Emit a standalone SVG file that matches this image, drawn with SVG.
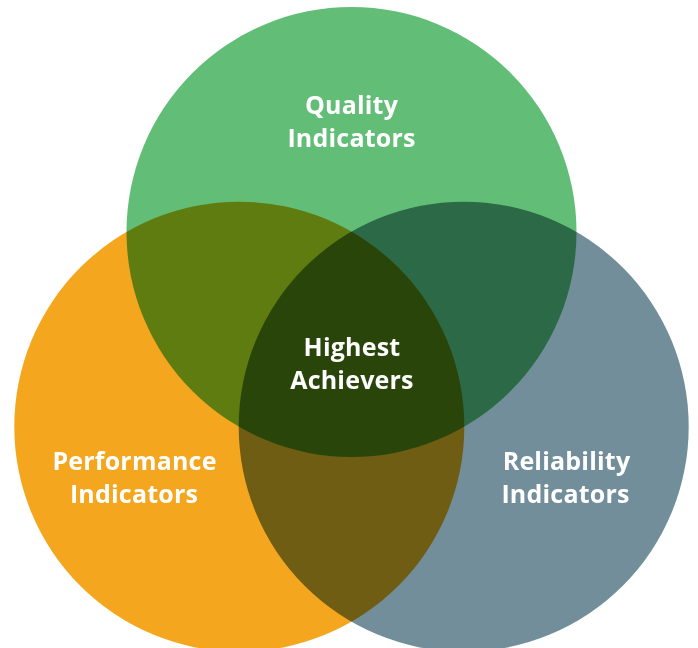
<svg xmlns="http://www.w3.org/2000/svg" width="698" height="648" viewBox="0 0 698 648">
  <style>
    .set { mix-blend-mode: multiply; }
    .label { font-family: "Open Sans", "Liberation Sans", sans-serif; font-weight: 700; font-size: 25px; letter-spacing: 0.2px; fill: #ffffff; text-anchor: middle; }
  </style>
  <rect width="698" height="648" fill="#ffffff"/>
  <!-- Three overlapping sets, blended so overlaps darken -->
  <g id="venn" style="isolation: isolate">
    <g id="quality">
      <circle class="set" cx="351.5" cy="232" r="225" fill="#62be76"/>
    </g>
    <g id="performance">
      <circle class="set" cx="239.3" cy="426.7" r="225" fill="#f5a61f"/>
    </g>
    <g id="reliability">
      <circle class="set" cx="463.7" cy="426.7" r="225" fill="#728e9a"/>
    </g>
  </g>
  <g id="labels">
    <text class="label" x="351.5" y="114">Quality</text>
    <text class="label" x="351.5" y="147">Indicators</text>
    <text class="label" x="352" y="356">Highest</text>
    <text class="label" x="352" y="389">Achievers</text>
    <text class="label" x="134.5" y="470">Performance</text>
    <text class="label" x="134" y="503">Indicators</text>
    <text class="label" x="566.5" y="470">Reliability</text>
    <text class="label" x="565.5" y="503">Indicators</text>
  </g>
</svg>
